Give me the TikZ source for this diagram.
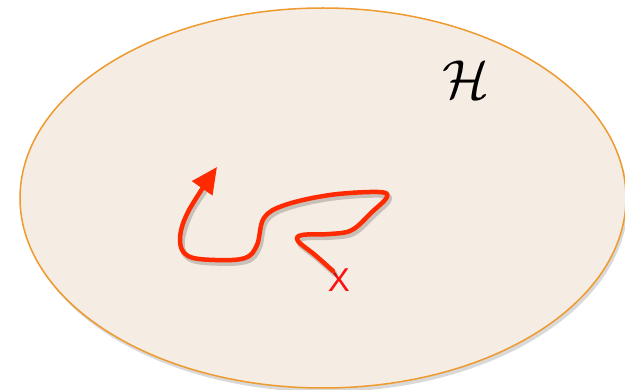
\documentclass[tikz,border=0pt]{standalone}
\usepackage{fontspec}
\newfontfamily\xfont{Liberation Sans}
\usetikzlibrary{shadows,arrows.meta}
\definecolor{fillc}{HTML}{F5ECE3}
\definecolor{edgec}{HTML}{EE9A2E}
\definecolor{pathc}{HTML}{FF2A00}
\definecolor{xc}{HTML}{FF1010}
\tikzset{
  region/.style={draw=edgec, fill=fillc, line width=1.5pt,
    drop shadow={shadow xshift=2pt, shadow yshift=-4pt, opacity=0.3}},
  walk/.style={draw=pathc, line width=4.5pt, line cap=round, line join=round,
    -{Triangle[length=26pt,width=24pt]}},
  walkshadow/.style={draw=black, opacity=0.18, line width=5.5pt, line cap=round, line join=round},
  xlabel/.style={text=xc, font=\xfont\normalsize, inner sep=0pt, scale=3.3},
  hlabel/.style={font=\normalsize, inner sep=0pt, scale=5.5}
}
\begin{document}
\begin{tikzpicture}[x=1pt,y=-1pt]
\useasboundingbox (0,0) rectangle (625,390);
\path[region] (323,198) ellipse [x radius=303, y radius=190];
\node[hlabel] (h) at (466,80) {$\mathcal{H}$};
\node[xlabel] (x) at (339,280) {X};
\coordinate (start) at (333,271);
\coordinate (tip) at (217,167);
\draw[walkshadow, shift={(2pt,-3pt)}] plot[smooth, tension=0.6] coordinates {(333,271) (315,255) (298,241) (302,235) (330,234) (352,230) (372,212) (387,197) (378,192) (330,195) (285,205) (264,218) (257,245) (245,258) (215,260) (188,256) (180,240) (188,212) (203,188)};
\draw[walk] plot[smooth, tension=0.6] coordinates {(start) (315,255) (298,241) (302,235) (330,234) (352,230) (372,212) (387,197) (378,192) (330,195) (285,205) (264,218) (257,245) (245,258) (215,260) (188,256) (180,240) (188,212) (tip)};
\end{tikzpicture}
\end{document}
